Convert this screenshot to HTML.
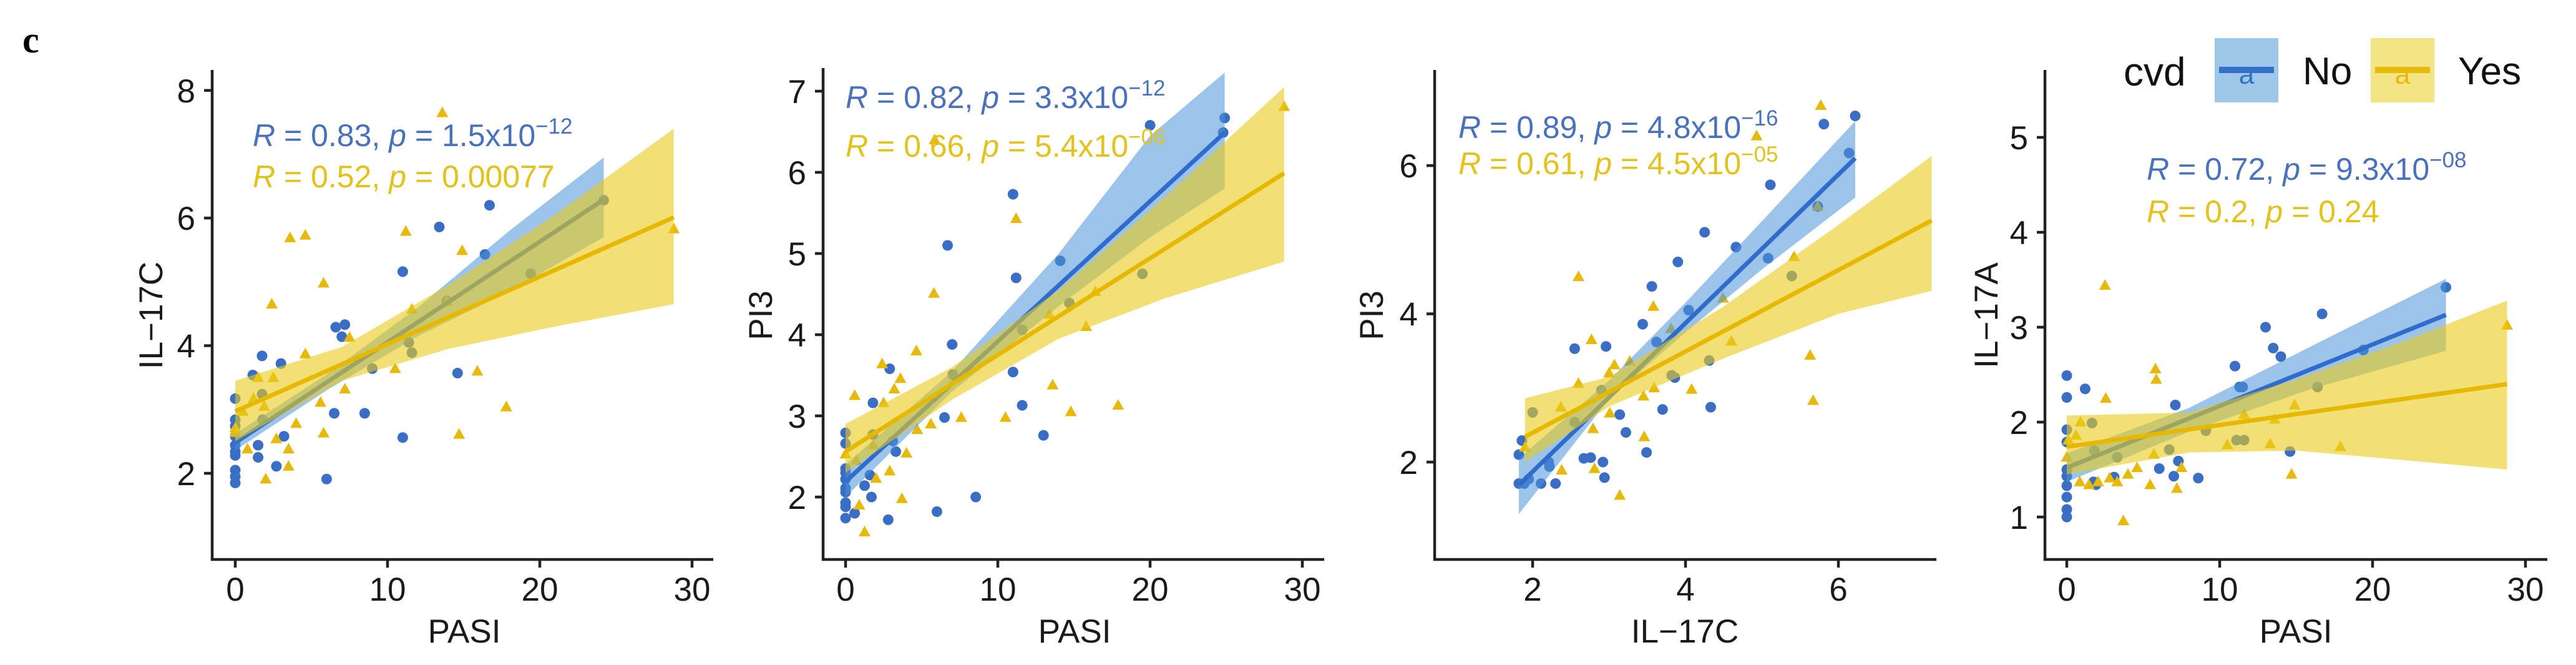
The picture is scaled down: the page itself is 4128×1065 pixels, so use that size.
<!DOCTYPE html>
<html><head><meta charset="utf-8"><style>
html,body{margin:0;padding:0;background:#fff;}
svg{display:block;font-family:"Liberation Sans",sans-serif;}
</style></head><body>
<svg id="chart" width="4128" height="1065" viewBox="0 0 4128 1065" xmlns="http://www.w3.org/2000/svg">
<rect width="4128" height="1065" fill="#fff"/>
<text x="36" y="84" font-family="Liberation Serif, serif" font-weight="bold" font-size="60">c</text>
<g id="legend">
  <text x="3403" y="137" font-size="64" fill="#111">cvd</text>
  <g>
    <rect x="3549" y="61" width="102" height="103" fill="#9ec8ea"/>
    <line x1="3556" y1="112" x2="3644" y2="112" stroke="#3570c8" stroke-width="10"/>
    <text x="3600" y="134" font-size="44" fill="#3570c8" text-anchor="middle">a</text>
    <text x="3690" y="135" font-size="62" fill="#111">No</text>
  </g>
  <g>
    <rect x="3799" y="61" width="102" height="103" fill="#f3e584"/>
    <line x1="3806" y1="112" x2="3894" y2="112" stroke="#e8b90c" stroke-width="10"/>
    <text x="3850" y="134" font-size="44" fill="#e8b90c" text-anchor="middle">a</text>
    <text x="3939" y="135" font-size="62" fill="#111">Yes</text>
  </g>
</g>
</svg>
<script>
// ---------- Panel 1: IL-17C vs PASI ----------
const p1BlueX=[0,0,0,0,0,0,0,0,0,0,1.15,1.76,1.76,1.5,1.5,2.7,3.0,3.2,1.8,6.0,6.5,6.6,7.2,7.0,8.5,9.0,11,11,11.4,11.6,13.4,14.6,13.9,16.4,16.7,19.4,24.2];
const p1BlueY=[3.17,2.84,2.74,2.58,2.44,2.34,2.28,2.05,1.95,1.85,3.54,3.84,3.24,2.44,2.25,2.11,3.72,2.58,2.84,1.91,2.94,4.29,4.33,4.14,2.94,3.64,5.16,2.56,4.05,3.89,5.86,3.57,4.70,5.43,6.20,5.13,6.28];
const p1YelX=[0,0,0.5,0.8,1.2,1.5,1.9,2.0,2.4,2.5,2.7,3.5,3.5,3.6,4.0,4.6,4.6,5.6,5.8,5.8,7.2,7.5,10.5,11.2,11.6,13.6,13.9,14.7,14.9,15.9,17.8,28.8];
const p1YelY=[2.71,2.64,2.97,2.38,3.17,3.5,3.05,1.91,4.65,3.5,2.54,2.38,2.11,5.69,2.78,5.73,3.87,3.11,4.98,2.63,3.32,4.13,3.64,5.79,4.57,7.65,4.69,2.61,5.49,3.6,3.04,5.83];
const p1BlueFitX=[0,24.2], p1BlueFitY=[2.48,6.29];
const p1YelFitX=[0,28.8], p1YelFitY=[2.97,6.01];
const p1BlueBandX=[0,6,12,18,24.2], p1BlueBandLo=[2.36,3.3,4.15,4.85,5.7], p1BlueBandHi=[2.62,3.55,4.6,5.8,6.95];
const p1YelBandX=[0,7,14,21,28.8], p1YelBandLo=[2.5,3.45,3.95,4.3,4.65], p1YelBandHi=[3.45,3.98,4.95,6.05,7.4];
const p1XTicks=[0,10,20,30], p1YTicks=[2,4,6,8];
const p1BlueLabel=["0.83","1.5x10","−12"], p1YelLabel=["0.52","0.00077",""];

// ---------- Panel 2: PI3 vs PASI ----------
const p2BlueX=[0,0,0,0,0,0,0,0,0,0,0.6,1.25,1.7,1.6,1.8,1.8,2.8,2.9,3.3,3.1,6.5,6.0,6.7,7.0,7.05,8.55,11,11.2,11,11.6,11.6,13,14.1,14.7,19.5,20,24.9,24.8];
const p2BlueY=[2.79,2.66,2.35,2.30,2.22,2.11,2.06,1.93,1.88,1.74,1.80,2.14,2.0,2.27,3.16,2.77,1.72,3.58,2.56,2.69,2.98,1.82,5.10,3.88,3.51,2.0,5.73,4.70,3.54,3.13,4.06,2.76,4.91,4.39,4.75,6.58,6.67,6.49];
const p2YelX=[0,0.6,0.7,0.9,1.25,1.8,2.0,2.4,2.5,2.9,3.2,3.6,3.7,4.0,4.65,4.7,5.6,5.8,5.85,7.6,10.5,11.2,13.4,13.6,14.8,15.8,16.4,17.9,28.8];
const p2YelY=[2.53,3.25,2.45,1.9,1.57,2.64,2.23,3.64,3.16,2.32,3.33,3.46,1.98,2.54,3.8,2.83,2.9,4.51,6.40,2.98,2.98,5.43,4.25,3.38,3.05,4.1,4.53,3.13,6.81];
const p2BlueFitX=[0,24.9], p2BlueFitY=[2.19,6.49];
const p2YelFitX=[0,28.8], p2YelFitY=[2.56,5.99];
const p2BlueBandX=[0,7,14,20,24.9], p2BlueBandLo=[2.0,3.3,4.35,5.2,5.8], p2BlueBandHi=[2.4,3.55,5.0,6.45,7.23];
const p2YelBandX=[0,7,14,21,28.8], p2YelBandLo=[2.3,3.2,3.95,4.45,4.9], p2YelBandHi=[2.9,3.6,4.55,5.7,7.05];
const p2XTicks=[0,10,20,30], p2YTicks=[2,3,4,5,6,7];
const p2BlueLabel=["0.82","3.3x10","−12"], p2YelLabel=["0.66","5.4x10","−06"];

// ---------- Panel 3: PI3 vs IL-17C ----------
const p3BlueX=[1.82,1.86,1.82,1.89,1.95,2.11,2.22,2.21,2.30,2.0,2.55,2.55,2.67,2.76,2.92,2.94,2.96,2.9,3.14,3.22,3.44,3.49,3.56,3.62,3.70,3.82,3.86,3.90,4.04,4.25,4.33,4.31,4.66,5.08,5.11,5.39,5.73,5.81,6.14,6.22];
const p3BlueY=[2.10,2.29,1.71,1.71,1.77,1.71,1.94,2.0,1.71,2.67,2.54,3.53,2.05,2.06,2.0,1.79,3.56,2.97,2.64,2.4,3.86,2.13,4.37,3.62,2.71,3.17,3.14,4.70,4.05,5.10,2.74,3.37,4.90,4.75,5.74,4.51,5.45,6.56,6.17,6.67];
const p3YelX=[1.90,2.37,2.38,2.6,2.6,2.79,2.77,2.81,3.0,3.07,3.01,3.14,3.27,3.45,3.46,3.58,3.59,3.81,4.08,4.49,4.6,4.93,5.42,5.63,5.67,5.73,5.77];
const p3YelY=[2.2,2.74,1.89,3.06,4.5,2.45,3.65,1.91,3.2,3.31,2.66,1.55,3.36,2.89,2.34,4.10,3.0,3.8,2.98,4.21,3.63,6.4,4.77,3.44,2.83,5.45,6.81];
const p3BlueFitX=[1.82,6.22], p3BlueFitY=[1.69,6.10];
const p3YelFitX=[1.90,7.22], p3YelFitY=[2.34,5.26];
const p3BlueBandX=[1.82,3,4,5,6.22], p3BlueBandLo=[1.3,2.85,3.75,4.6,5.57], p3BlueBandHi=[2.05,3.1,4.15,5.25,6.6];
const p3YelBandX=[1.9,3,4.5,6,7.22], p3YelBandLo=[2.0,2.75,3.4,4.0,4.31], p3YelBandHi=[2.86,3.15,4.1,5.2,6.13];
const p3XTicks=[2,4,6], p3YTicks=[2,4,6];
const p3BlueLabel=["0.89","4.8x10","−16"], p3YelLabel=["0.61","4.5x10","−05"];

// ---------- Panel 4: IL-17A vs PASI ----------
const p4BlueX=[0,0,0,0,0,0,0,0,0,0,1.2,1.65,1.75,1.9,1.8,3.1,3.3,6.05,6.7,7.0,7.1,7.3,8.6,9.1,11,11.1,11.3,11.5,11.6,13,13.5,14,14.6,16.4,16.7,19.4,24.8];
const p4BlueY=[2.49,2.26,1.92,1.79,1.5,1.43,1.33,1.21,1.08,1.0,2.35,1.99,1.37,1.34,1.70,1.42,1.63,1.51,1.71,1.43,2.18,1.59,1.41,1.91,2.59,1.81,2.37,2.37,1.81,3.0,2.78,2.69,1.69,2.37,3.14,2.76,3.42];
const p4YelX=[0,0.1,0.6,0.9,0.85,1.45,2.05,2.5,2.55,2.8,3.3,3.7,4.0,4.6,5.45,5.7,5.8,5.85,7.2,7.5,10.5,11.6,13.3,13.6,14.7,14.9,17.9,28.8];
const p4YelY=[1.63,1.81,1.86,2.0,1.37,1.34,1.37,3.44,2.25,1.41,1.37,0.96,1.45,1.52,1.34,1.66,2.56,2.45,1.3,1.52,1.76,2.08,1.77,2.03,1.45,2.18,1.74,3.02];
const p4BlueFitX=[0,24.8], p4BlueFitY=[1.52,3.13];
const p4YelFitX=[0,28.8], p4YelFitY=[1.74,2.40];
const p4BlueBandX=[0,8,16,24.8], p4BlueBandLo=[1.37,1.9,2.35,2.75], p4BlueBandHi=[1.67,2.15,2.8,3.51];
const p4YelBandX=[0,8,15,22,28.8], p4YelBandLo=[1.45,1.68,1.7,1.6,1.5], p4YelBandHi=[2.07,2.1,2.45,2.85,3.28];
const p4XTicks=[0,10,20,30], p4YTicks=[1,2,3,4,5];
const p4BlueLabel=["0.72","9.3x10","−08"], p4YelLabel=["0.2","0.24",""];

const NS="http://www.w3.org/2000/svg";
const svg=document.getElementById('chart');
const BLUE="#3a6ec4", YEL="#e6b90a", BLUE_LINE="#2f6ccb", YEL_LINE="#e7b800";
function mk(tag,attrs,parent){const e=document.createElementNS(NS,tag);for(const k in attrs)e.setAttribute(k,attrs[k]);(parent||svg).appendChild(e);return e;}

function drawPanel(id,cfg,d){
  const g=mk('g',{});
  
  
  const sx=v=>cfg.xPx0+(v-cfg.xV0)*cfg.xk;
  const sy=v=>cfg.yPx0-(v-cfg.yV0)*cfg.yk;
  const pts=mk('g',{},g);
  
  
  d.bx.forEach((x,i)=>{
    const c=mk('circle',{cx:sx(x),cy:sy(d.by[i]),r:8.5,fill:BLUE},pts);
    
    
  });
  d.yx.forEach((x,i)=>{
    const px=sx(x),py=sy(d.yy[i]);
    const t=mk('polygon',{points:`${px},${py-10} ${px-9.5},${py+7} ${px+9.5},${py+7}`,fill:YEL},pts);
    
    
  });
  function band(xs,lo,hi,col,op,name){
    let p=xs.map((x,i)=>`${sx(x)},${sy(hi[i])}`);
    for(let i=xs.length-1;i>=0;i--)p.push(`${sx(xs[i])},${sy(lo[i])}`);
    const e=mk('polygon',{points:p.join(' '),fill:col,'fill-opacity':op},g);
    
    
  }
  function line(xs,ys,col,name){
    const e=mk('line',{x1:sx(xs[0]),y1:sy(ys[0]),x2:sx(xs[1]),y2:sy(ys[1]),stroke:col,'stroke-width':7},g);
    
    
  }
  band(d.bbx,d.bbl,d.bbh,"#4b93d8",0.55,"ci-band-no");
  line(d.bfx,d.bfy,BLUE_LINE,"fit-line-no");
  band(d.ybx,d.ybl,d.ybh,"#e9cc1c",0.6,"ci-band-yes");
  line(d.yfx,d.yfy,YEL_LINE,"fit-line-yes");
  const ax=mk('path',{d:`M${cfg.left},${cfg.top} V${cfg.bottom} H${cfg.right}`,stroke:"#222",'stroke-width':4.5,fill:'none'},g);
  
  
  d.xt.forEach(v=>{
    const x=sx(v);
    const tk=mk('line',{x1:x,y1:cfg.bottom,x2:x,y2:cfg.bottom+13,stroke:"#222",'stroke-width':4.5},g);
    
    
    const t=mk('text',{x:x,y:cfg.bottom+66,'font-size':53,'text-anchor':'middle',fill:'#1a1a1a'},g);
    t.textContent=v;
    
    
  });
  d.yt.forEach(v=>{
    const y=sy(v);
    const tk=mk('line',{x1:cfg.left-13,y1:y,x2:cfg.left,y2:y,stroke:"#222",'stroke-width':4.5},g);
    
    
    const t=mk('text',{x:cfg.left-27,y:y+19,'font-size':53,'text-anchor':'end',fill:'#1a1a1a'},g);
    t.textContent=v;
    
    
  });
  const xt=mk('text',{x:cfg.xTitleX,y:1029,'font-size':53,'text-anchor':'middle',fill:'#1a1a1a'},g);
  xt.textContent=cfg.xTitle;
  
  
  const yt=mk('text',{x:0,y:0,'font-size':53,'text-anchor':'middle',fill:'#1a1a1a',transform:`translate(${cfg.yTitleX+18},505) rotate(-90)`},g);
  yt.textContent=cfg.yTitle;
  
  
  function stat(lbl,x,y,col,name){
    const t=mk('text',{x:x,y:y+17,'font-size':50,fill:col},g);
    
    
    let html=`<tspan font-style="italic">R</tspan> = ${lbl[0]}, <tspan font-style="italic">p</tspan> = ${lbl[1]}`;
    if(lbl[2])html+=`<tspan font-size="35" dy="-20">${lbl[2]}</tspan>`;
    t.innerHTML=html;
  }
  stat(d.bl,cfg.textX,cfg.blueTextY,"#4a72bb","stat-label-no");
  stat(d.yl,cfg.textX,cfg.yelTextY,"#e3c21c","stat-label-yes");
}

drawPanel('panel-il17c-pasi',{xPx0:377,xV0:0,xk:24.4,yPx0:758,yV0:2,yk:102.2,left:340,right:1143,top:112,bottom:896,xTitle:'PASI',xTitleX:744,yTitle:'IL−17C',yTitleX:242,textX:405,blueTextY:217,yelTextY:283},
 {bx:p1BlueX,by:p1BlueY,yx:p1YelX,yy:p1YelY,bfx:p1BlueFitX,bfy:p1BlueFitY,yfx:p1YelFitX,yfy:p1YelFitY,bbx:p1BlueBandX,bbl:p1BlueBandLo,bbh:p1BlueBandHi,ybx:p1YelBandX,ybl:p1YelBandLo,ybh:p1YelBandHi,xt:p1XTicks,yt:p1YTicks,bl:p1BlueLabel,yl:p1YelLabel});
drawPanel('panel-pi3-pasi',{xPx0:1355,xV0:0,xk:24.4,yPx0:796,yV0:2,yk:130,left:1319,right:2122,top:109,bottom:896,xTitle:'PASI',xTitleX:1722,yTitle:'PI3',yTitleX:1219,textX:1355,blueTextY:156,yelTextY:234},
 {bx:p2BlueX,by:p2BlueY,yx:p2YelX,yy:p2YelY,bfx:p2BlueFitX,bfy:p2BlueFitY,yfx:p2YelFitX,yfy:p2YelFitY,bbx:p2BlueBandX,bbl:p2BlueBandLo,bbh:p2BlueBandHi,ybx:p2YelBandX,ybl:p2YelBandLo,ybh:p2YelBandHi,xt:p2XTicks,yt:p2YTicks,bl:p2BlueLabel,yl:p2YelLabel});
drawPanel('panel-pi3-il17c',{xPx0:2456,xV0:2,xk:122.5,yPx0:740,yV0:2,yk:118.7,left:2299,right:3103,top:112,bottom:896,xTitle:'IL−17C',xTitleX:2700,yTitle:'PI3',yTitleX:2198,textX:2337,blueTextY:204,yelTextY:262},
 {bx:p3BlueX,by:p3BlueY,yx:p3YelX,yy:p3YelY,bfx:p3BlueFitX,bfy:p3BlueFitY,yfx:p3YelFitX,yfy:p3YelFitY,bbx:p3BlueBandX,bbl:p3BlueBandLo,bbh:p3BlueBandHi,ybx:p3YelBandX,ybl:p3YelBandLo,ybh:p3YelBandHi,xt:p3XTicks,yt:p3YTicks,bl:p3BlueLabel,yl:p3YelLabel});
drawPanel('panel-il17a-pasi',{xPx0:3312,xV0:0,xk:24.5,yPx0:828,yV0:1,yk:152,left:3277,right:4082,top:112,bottom:896,xTitle:'PASI',xTitleX:3679,yTitle:'IL−17A',yTitleX:3183,textX:3440,blueTextY:271,yelTextY:339},
 {bx:p4BlueX,by:p4BlueY,yx:p4YelX,yy:p4YelY,bfx:p4BlueFitX,bfy:p4BlueFitY,yfx:p4YelFitX,yfy:p4YelFitY,bbx:p4BlueBandX,bbl:p4BlueBandLo,bbh:p4BlueBandHi,ybx:p4YelBandX,ybl:p4YelBandLo,ybh:p4YelBandHi,xt:p4XTicks,yt:p4YTicks,bl:p4BlueLabel,yl:p4YelLabel});
svg.appendChild(document.getElementById('legend'));
</script>
</body></html>
